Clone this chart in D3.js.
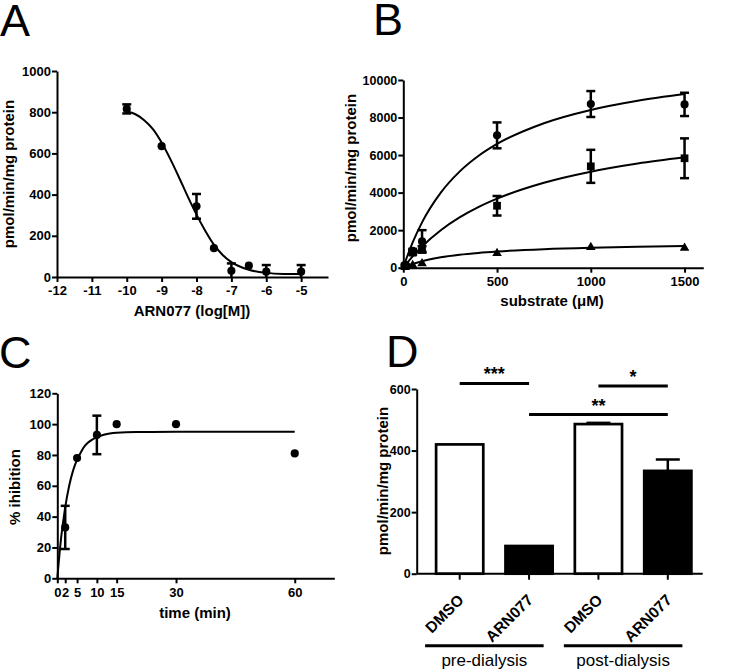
<!DOCTYPE html>
<html><head><meta charset="utf-8">
<script src="https://cdn.jsdelivr.net/npm/d3@7"></script>
<style>
body{margin:0;background:#fff}
svg{display:block}
text{font-family:"Liberation Sans",Arial,sans-serif;fill:#000}
</style></head><body>
<svg id="c" width="742" height="671"></svg>
<script>
// ---------- Panel A data ----------
const aDose = [-10, -9, -8, -7.5, -7, -6.5, -6, -5];
const aMean = [816, 635, 343, 140, 30, 55, 26, 26];
const aSem  = [22, 0, 60, 0, 36, 0, 32, 32];
const aCurveX = [-10, -9.75, -9.5, -9.25, -9, -8.75, -8.5, -8.25, -8, -7.75, -7.5, -7.25, -7, -6.5, -6, -5.5, -5];
const aCurveY = [803, 790, 761, 718, 653, 572, 483, 390, 303, 225, 157, 107, 72, 35, 20, 15, 14];
const aXTicks = [-12, -11, -10, -9, -8, -7, -6, -5];
const aYTicks = [0, 200, 400, 600, 800, 1000];

// ---------- Panel B data ----------
const bSubstrate = [10, 50, 100, 500, 1000, 1500];
const bCircle = [150, 900, 1400, 7050, 8720, 8700];
const bCircleSem = [50, 100, 600, 690, 690, 620];
const bSquare = [100, 800, 1000, 3300, 5400, 5830];
const bSquareSem = [50, 100, 150, 520, 880, 1060];
const bTriangle = [30, 130, 220, 767, 1087, 1050];
const bTriangleSem = [0, 0, 0, 0, 0, 0];
const bCurveX = [0, 25, 50, 100, 200, 300, 400, 500, 750, 1000, 1250, 1500];
const bCircleCurve = [0, 716, 1349, 2417, 4000, 5118, 5949, 6591, 7699, 8406, 8896, 9255];
const bSquareCurve = [0, 315, 608, 1134, 1998, 2677, 3227, 3679, 4526, 5115, 5549, 5880];
const bTriangleCurve = [0, 105, 196, 343, 551, 690, 789, 864, 989, 1066, 1118, 1156];
const bXTicks = [0, 500, 1000, 1500];
const bYTicks = [0, 2000, 4000, 6000, 8000, 10000];

// ---------- Panel C data ----------
const cTime = [2, 5, 10, 15, 30, 60];
const cInhib = [33, 78, 93, 100, 100, 81];
const cSem = [14, 0, 12.5, 0, 0, 0];
const cCurveT = [0, 1, 2, 3, 4, 5, 6, 7, 8, 10, 12, 15, 20, 30, 60];
const cCurveY = [0, 27, 46, 60, 70, 77, 82, 86, 88.5, 91.5, 93.3, 94.4, 94.9, 95, 95];
const cXTicks = [0, 2, 5, 10, 15, 30, 60];
const cYTicks = [0, 20, 40, 60, 80, 100, 120];

// ---------- Panel D data ----------
const dKeys = ["pre-DMSO", "pre-ARN077", "post-DMSO", "post-ARN077"];
const dLabels = ["DMSO", "ARN077", "DMSO", "ARN077"];
const dValues = [420, 90, 486, 334];
const dSem = [0, 0, 4, 37];
const dGroups = ["pre-dialysis", "post-dialysis"];
const dGroupMembers = [[0, 1], [2, 3]];
const dSig = [
  {from: 0, to: 1, level: 618, label: "***"},
  {from: 2, to: 3, level: 610, label: "*"},
  {from: 1, to: 3, level: 517, label: "**"}
];
const dYTicks = [0, 200, 400, 600];

const FONT = '"Liberation Sans",Arial,sans-serif';
const svg = d3.select('#c');
const fmt = d => String(d);

function styleAxis(g, fs) {
  g.attr('font-family', FONT).attr('font-size', fs || 13).attr('font-weight', 'bold');
  g.select('.domain').attr('stroke', '#000').attr('stroke-width', 2);
  g.selectAll('.tick line').attr('stroke', '#000').attr('stroke-width', 2);
  g.selectAll('.tick text').attr('fill', '#000').attr('font-weight', 'bold')
    .attr('font-size', fs || 13).style('font-weight', 'bold');
}
function panelLetter(t, x, y) {
  svg.append('text').attr('x', x).attr('y', y).attr('font-size', 45)
    .attr('font-family', FONT).text(t);
}
function yTitle(t, x, y, fs) {
  svg.append('text').attr('transform', `translate(${x},${y}) rotate(-90)`)
    .attr('text-anchor', 'middle').attr('font-size', fs || 15).attr('font-weight', 'bold')
    .attr('font-family', FONT).text(t);
}
function xTitle(t, x, y, fs) {
  svg.append('text').attr('x', x).attr('y', y)
    .attr('text-anchor', 'middle').attr('font-size', fs || 15).attr('font-weight', 'bold')
    .attr('font-family', FONT).text(t);
}
function errBars(g, xs, means, sems, xS, yS, cap, floor) {
  xs.forEach((xv, i) => {
    const s = sems[i];
    if (!s) return;
    const lo = Math.max(floor, means[i] - s), hi = means[i] + s;
    const px = xS(xv);
    g.append('line').attr('x1', px).attr('x2', px).attr('y1', yS(lo)).attr('y2', yS(hi))
      .attr('stroke', '#000').attr('stroke-width', 2.5);
    [hi, lo].forEach(v => {
      if (v === floor && means[i] - s < floor) return;
      g.append('line').attr('x1', px - cap / 2).attr('x2', px + cap / 2)
        .attr('y1', yS(v)).attr('y2', yS(v)).attr('stroke', '#000').attr('stroke-width', 2.5);
    });
  });
}
function curve(g, xs, ys, xS, yS) {
  g.append('path').datum(xs.map((x, i) => [x, ys[i]]))
    .attr('d', d3.line().x(d => xS(d[0])).y(d => yS(d[1])).curve(d3.curveMonotoneX))
    .attr('fill', 'none').attr('stroke', '#000').attr('stroke-width', 2);
}
function symbols(g, xs, ys, xS, yS, type, size) {
  g.selectAll(null).data(xs).enter().append('path')
    .attr('transform', (d, i) => `translate(${xS(d)},${yS(ys[i])})`)
    .attr('d', d3.symbol().type(type).size(size)).attr('fill', '#000');
}

// ================= Panel A =================
{
  const x = d3.scaleLinear().domain([-12, -4.23]).range([57, 328]);
  const y = d3.scaleLinear().domain([0, 1000]).range([277, 71]);
  const g = svg.append('g');
  curve(g, aCurveX, aCurveY, x, y);
  errBars(g, aDose, aMean, aSem, x, y, 9, 0);
  symbols(g, aDose, aMean, x, y, d3.symbolCircle, 52);
  const gx = svg.append('g').attr('transform', `translate(0,${y(0)})`)
    .call(d3.axisBottom(x).tickValues(aXTicks).tickFormat(fmt).tickSize(5).tickSizeOuter(0).tickPadding(4));
  styleAxis(gx);
  const gy = svg.append('g').attr('transform', `translate(${x(-12)},0)`)
    .call(d3.axisLeft(y).tickValues(aYTicks).tickFormat(fmt).tickSize(5).tickSizeOuter(0).tickPadding(1));
  styleAxis(gy);
  panelLetter('A', 0, 36);
  yTitle('pmol/min/mg protein', 14, 174);
  xTitle('ARN077 (log[M])', 192, 316);
}

// ================= Panel B =================
{
  const x = d3.scaleLinear().domain([0, 1600]).range([403.3, 703.3]);
  const y = d3.scaleLinear().domain([0, 10000]).range([267.7, 80]);
  const g = svg.append('g');
  curve(g, bCurveX, bCircleCurve, x, y);
  curve(g, bCurveX, bSquareCurve, x, y);
  curve(g, bCurveX, bTriangleCurve, x, y);
  errBars(g, bSubstrate, bCircle, bCircleSem, x, y, 9, 0);
  errBars(g, bSubstrate, bSquare, bSquareSem, x, y, 9, 0);
  errBars(g, bSubstrate, bTriangle, bTriangleSem, x, y, 9, 0);
  symbols(g, bSubstrate, bCircle, x, y, d3.symbolCircle, 52);
  symbols(g, bSubstrate, bSquare, x, y, d3.symbolSquare, 60);
  symbols(g, bSubstrate, bTriangle, x, y, d3.symbolTriangle, 40);
  const gx = svg.append('g').attr('transform', `translate(0,${y(0)})`)
    .call(d3.axisBottom(x).tickValues(bXTicks).tickFormat(fmt).tickSize(5).tickSizeOuter(0).tickPadding(4));
  styleAxis(gx);
  const gy = svg.append('g').attr('transform', `translate(${x(0)},0)`)
    .call(d3.axisLeft(y).tickValues(bYTicks).tickFormat(fmt).tickSize(5).tickSizeOuter(0).tickPadding(1));
  styleAxis(gy, 12.5);
  panelLetter('B', 373, 35);
  yTitle('pmol/min/mg protein', 356, 168);
  xTitle('substrate (\u03bcM)', 552, 306);
}

// ================= Panel C =================
{
  const x = d3.scaleLinear().domain([0, 70]).range([57.3, 334.3]);
  const y = d3.scaleLinear().domain([0, 120]).range([578.3, 393.3]);
  const g = svg.append('g');
  curve(g, cCurveT, cCurveY, x, y);
  errBars(g, cTime, cInhib, cSem, x, y, 9, 0);
  symbols(g, cTime, cInhib, x, y, d3.symbolCircle, 52);
  const gx = svg.append('g').attr('transform', `translate(0,${y(0)})`)
    .call(d3.axisBottom(x).tickValues(cXTicks).tickFormat(fmt).tickSize(5).tickSizeOuter(0).tickPadding(4));
  styleAxis(gx);
  const gy = svg.append('g').attr('transform', `translate(${x(0)},0)`)
    .call(d3.axisLeft(y).tickValues(cYTicks).tickFormat(fmt).tickSize(5).tickSizeOuter(0).tickPadding(1));
  styleAxis(gy);
  panelLetter('C', -1, 368);
  yTitle('% ihibition', 20, 487);
  xTitle('time (min)', 195, 618);
}

// ================= Panel D =================
{
  const x = d3.scaleBand().domain(dKeys).range([425, 702.5]).paddingInner(0.32).paddingOuter(0.16);
  const y = d3.scaleLinear().domain([0, 600]).range([573.7, 389]);
  const g = svg.append('g');
  g.selectAll('rect').data(dKeys).enter().append('rect')
    .attr('x', d => x(d)).attr('width', x.bandwidth())
    .attr('y', (d, i) => y(dValues[i])).attr('height', (d, i) => y(0) - y(dValues[i]))
    .attr('fill', (d, i) => dLabels[i] === 'DMSO' ? '#fff' : '#000')
    .attr('stroke', '#000').attr('stroke-width', 2.7);
  dKeys.forEach((k, i) => {
    if (!dSem[i]) return;
    const cx = x(k) + x.bandwidth() / 2;
    const top = y(dValues[i] + dSem[i]);
    g.append('line').attr('x1', cx).attr('x2', cx).attr('y1', y(dValues[i])).attr('y2', top)
      .attr('stroke', '#000').attr('stroke-width', 2.5);
    g.append('line').attr('x1', cx - 12).attr('x2', cx + 12).attr('y1', top).attr('y2', top)
      .attr('stroke', '#000').attr('stroke-width', 2.5);
  });
  const gx = svg.append('g').attr('transform', `translate(0,${y(0)})`)
    .call(d3.axisBottom(x).tickSize(6).tickSizeOuter(0).tickFormat(''));
  styleAxis(gx);
  gx.select('.domain').attr('d', `M416.7,0H702.7`);
  dKeys.forEach((k, i) => {
    const cx = x(k) + x.bandwidth() / 2;
    svg.append('text').attr('transform', `translate(${cx + 5},${601}) rotate(-45)`)
      .attr('text-anchor', 'end').attr('font-size', 15.5).attr('font-weight', 'bold')
      .attr('font-family', FONT).text(dLabels[i]);
  });
  const gy = svg.append('g').attr('transform', `translate(416.7,0)`)
    .call(d3.axisLeft(y).tickValues(dYTicks).tickFormat(fmt).tickSize(5).tickSizeOuter(0).tickPadding(1));
  styleAxis(gy, 12.5);
  dGroups.forEach((gname, j) => {
    const m = dGroupMembers[j];
    const x0 = x(dKeys[m[0]]) - 11, x1 = x(dKeys[m[m.length - 1]]) + x.bandwidth() - 9;
    svg.append('line').attr('x1', x0).attr('x2', x1).attr('y1', 645.7).attr('y2', 645.7)
      .attr('stroke', '#000').attr('stroke-width', 3);
    svg.append('text').attr('x', (x0 + x1) / 2).attr('y', 666).attr('text-anchor', 'middle')
      .attr('font-size', 17).attr('font-family', FONT).text(gname);
  });
  dSig.forEach(s => {
    const x0 = x(dKeys[s.from]) + x.bandwidth() / 2, x1 = x(dKeys[s.to]) + x.bandwidth() / 2;
    svg.append('line').attr('x1', x0).attr('x2', x1).attr('y1', y(s.level)).attr('y2', y(s.level))
      .attr('stroke', '#000').attr('stroke-width', 3);
    svg.append('text').attr('x', (x0 + x1) / 2).attr('y', y(s.level) - 3).attr('text-anchor', 'middle')
      .attr('font-size', 18).attr('font-weight', 'bold').attr('font-family', FONT).text(s.label);
  });
  panelLetter('D', 386, 367);
  yTitle('pmol/min/mg protein', 388, 481);
}
</script>
</body></html>
